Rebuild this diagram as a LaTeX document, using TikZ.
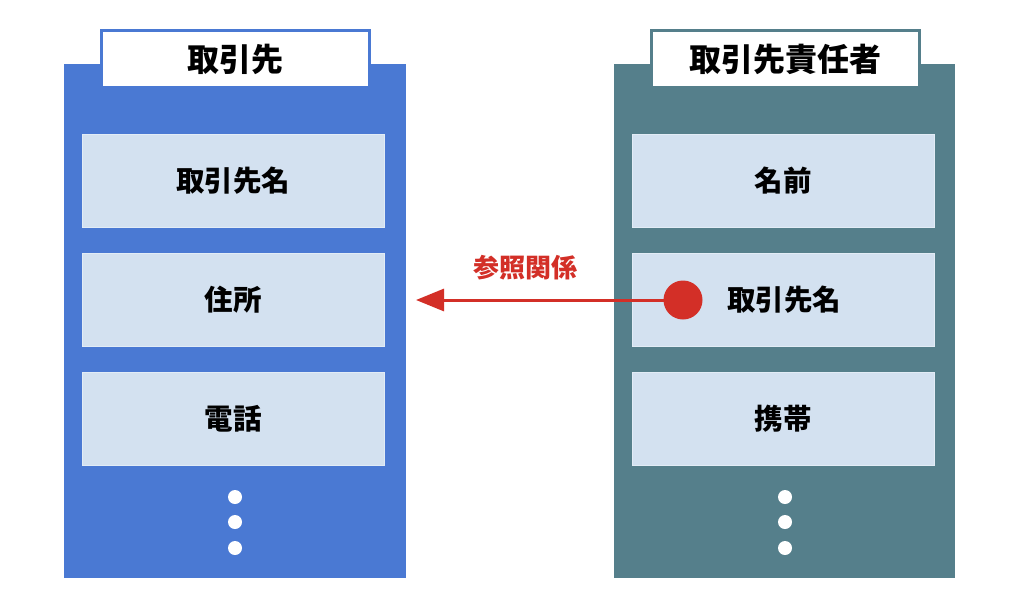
\documentclass[tikz,border=0pt]{standalone}
\usepackage{fontspec}
\newfontfamily\jp{Noto Sans CJK JP}
\usetikzlibrary{arrows.meta}
\definecolor{lblue}{HTML}{4A79D3}
\definecolor{teal}{HTML}{557F8B}
\definecolor{cell}{HTML}{D3E1F0}
\definecolor{cellb}{HTML}{E2ECF6}
\definecolor{red}{HTML}{D32F27}
\tikzset{
  panel/.style={draw=none, fill=#1},
  titlebox/.style={draw=#1, line width=3pt, fill=white, minimum width=268pt, minimum height=56pt, inner sep=0pt, font=\jp\bfseries\fontsize{32}{34}\selectfont},
  cellbox/.style={draw=cellb, line width=0.8pt, fill=cell, minimum width=302pt, minimum height=93pt, inner sep=0pt, font=\jp\bfseries\fontsize{28.5}{30}\selectfont},
  wdot/.style={circle, fill=white, minimum size=14pt, inner sep=0pt},
  rlabel/.style={text=red, font=\jp\bfseries\fontsize{26}{28}\selectfont},
}
\begin{document}
\begin{tikzpicture}[x=1pt,y=-1pt]
\useasboundingbox[fill=white] (0,0) rectangle (1024,610);
% left panel
\fill[lblue] (64,64) rectangle (406,578);
\node[titlebox=lblue] (t1) at (235,59) {取引先};
\node[cellbox] (a1) at (233,180.5) {取引先名};
\node[cellbox] (a2) at (233,299.5) {住所};
\node[cellbox] (a3) at (233,418.5) {電話};
\node[wdot] (d1) at (235,497) {};
\node[wdot] (d2) at (235,522) {};
\node[wdot] (d3) at (235,548) {};
% right panel
\fill[teal] (614,64) rectangle (955,578);
\node[titlebox=teal] (t2) at (785,59) {取引先責任者};
\node[cellbox] (b1) at (783,180.5) {名前};
\node[cellbox] (b2) at (783,299.5) {\hspace*{2pt}取引先名};
\node[cellbox] (b3) at (783,418.5) {携帯};
\node[wdot] (e1) at (785,497) {};
\node[wdot] (e2) at (785,522) {};
\node[wdot] (e3) at (785,548) {};
% reference
\node[circle, fill=red, minimum size=39pt, inner sep=0pt] (ref) at (683,300) {};
\coordinate (tip) at (416,300);
\draw[red, line width=3pt, -{Triangle[length=28pt,width=22pt]}] (ref.center) -- (tip);
\node[rlabel] (lbl) at (525,268) {参照関係};
\end{tikzpicture}
\end{document}
